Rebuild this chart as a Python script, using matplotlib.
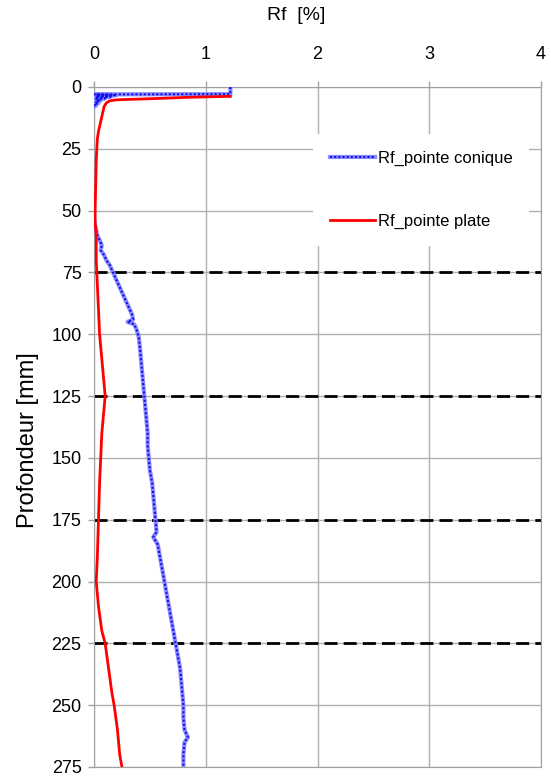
import numpy as np
import matplotlib
matplotlib.use("Agg")
import matplotlib.pyplot as plt
from matplotlib.legend_handler import HandlerTuple

plt.rcParams['font.family'] = ['Liberation Sans', 'DejaVu Sans']

# Rf_pointe conique (blue): values [%] and depths [mm]
conique_rf = [1.22, 1.22, 1.22, 0.00, 0.20, 0.02, 0.15, 0.01, 0.10, 0.02, 0.06, 0.01, 0.04, 0.00, 0.02, 0.00,
              np.nan,
              0.00, 0.01, 0.02, 0.03, 0.05, 0.07, 0.06, 0.09, 0.11, 0.14, 0.17, 0.19, 0.22, 0.25, 0.28,
              0.31, 0.34, 0.35, 0.30, 0.36, 0.38, 0.40, 0.41, 0.42, 0.43, 0.44, 0.45, 0.46, 0.47, 0.48,
              0.48, 0.49, 0.50, 0.52, 0.53, 0.54, 0.55, 0.56, 0.53, 0.57, 0.59, 0.61, 0.63, 0.65, 0.67,
              0.69, 0.71, 0.73, 0.75, 0.77, 0.78, 0.79, 0.80, 0.80, 0.81, 0.84, 0.81, 0.80, 0.80]
conique_depth = [0, 1.5, 2.9, 3.0, 3.3, 3.6, 3.9, 4.2, 4.6, 5.0, 5.5, 6.0, 6.5, 7.0, 7.5, 8.0,
                 30,
                 53, 56, 58, 60, 62, 64, 66, 68, 70, 72, 75, 77, 80, 83, 86,
                 89, 92, 94, 95, 96, 98, 101, 105, 110, 115, 120, 125, 130, 135, 140,
                 145, 150, 155, 160, 165, 170, 175, 180, 182, 185, 190, 195, 200, 205, 210,
                 215, 220, 225, 230, 235, 240, 245, 250, 255, 260, 263, 265, 270, 275]

# Rf_pointe plate (red)
plate_rf = [1.22, 1.00, 0.83, 0.60, 0.40, 0.20, 0.14, 0.11, 0.09, 0.08, 0.07, 0.06, 0.05, 0.04, 0.03,
            0.025, 0.02, 0.015, 0.01, 0.01, 0.02, 0.02, 0.03, 0.04, 0.05, 0.07, 0.09, 0.10, 0.09, 0.07,
            0.06, 0.05, 0.04, 0.03, 0.02, 0.04, 0.07, 0.10, 0.13, 0.16, 0.18, 0.21, 0.23, 0.25]
plate_depth = [3.8, 4.0, 4.2, 4.6, 4.9, 5.2, 5.6, 6.5, 8, 10, 12, 14, 16, 18, 21,
               25, 30, 40, 50, 55, 60, 70, 80, 90, 100, 110, 120, 125, 130, 140,
               150, 160, 175, 190, 200, 210, 220, 225, 235, 245, 250, 260, 270, 275]

layer_depths = [75, 125, 175, 225]

fig = plt.figure(figsize=(5.51, 7.80), dpi=100)
ax = fig.add_axes([0.1706, 0.0167, 0.8113, 0.8718])

# blue series drawn as a light band with a dotted darker core
base, = ax.plot(conique_rf, conique_depth, color='#8c8cff', linewidth=3.0, zorder=3)
core, = ax.plot(conique_rf, conique_depth, color='#1010ee', linewidth=1.5, dashes=(1, 1), zorder=3)
red, = ax.plot(plate_rf, plate_depth, color='#ff0000', linewidth=2.0, zorder=3)

for d in layer_depths:
    ax.axhline(d, color='black', linewidth=2.0, dashes=(4.7, 2.2), zorder=2)

ax.set_xlim(0, 4)
ax.set_ylim(275, 0)
ax.set_xticks([0, 1, 2, 3, 4])
ax.set_yticks(np.arange(0, 276, 25))
ax.xaxis.tick_top()
ax.xaxis.set_label_position('top')
ax.set_xlabel('Rf  [%]', fontsize=14)
ax.xaxis.set_label_coords(0.452, 1.098)
ax.set_ylabel('Profondeur [mm]', fontsize=17)
ax.yaxis.set_label_coords(-0.122, 0.481)
ax.tick_params(axis='both', labelsize=13, color='#a0a0a0', length=4, width=1)
ax.tick_params(axis='x', pad=13)
ax.tick_params(axis='y', pad=5)
ax.grid(True, color='#b0b0b0', linewidth=1.0, zorder=1)
ax.set_axisbelow(True)
for s in ax.spines.values():
    s.set_color('#a0a0a0')

leg = ax.legend([(base, core), red], ['Rf_pointe conique', 'Rf_pointe plate'],
                handler_map={tuple: HandlerTuple(ndivide=1)},
                loc='upper left', bbox_to_anchor=(0.471, 0.943), fontsize=12,
                frameon=True, edgecolor='none', facecolor='white', framealpha=1,
                labelspacing=2.9, handlelength=2.7, handletextpad=0.2, borderpad=1.0,
                fancybox=False)
leg.set_zorder(5)

fig.savefig('out.png', dpi=100)
